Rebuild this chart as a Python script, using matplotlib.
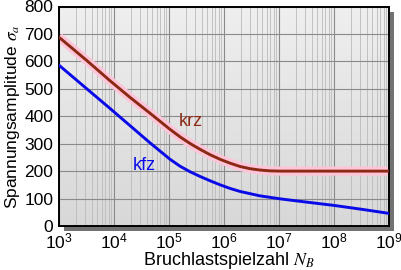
import numpy as np
import matplotlib
matplotlib.use("Agg")
import matplotlib.pyplot as plt
from matplotlib.patches import Rectangle

plt.rcParams['font.family'] = ['Liberation Sans', 'DejaVu Sans']
plt.rcParams['mathtext.fontset'] = 'stix'

# Woehler-Linien, Exponent von N_B und Spannungsamplitude
krz_exp = [3, 3.5, 3.93, 4.29, 4.655, 5.02, 5.2, 5.38, 5.56, 5.745, 5.93, 6.11, 6.29, 6.47,
           6.65, 6.83, 7.02, 8, 9]
krz_sa = [688, 604, 529, 469, 411, 352, 325, 301, 280, 260, 243, 229, 217, 209,
          204, 201, 200, 200, 200]
kfz_exp = [3, 3.5, 3.93, 4.29, 4.655, 5.02, 5.2, 5.38, 5.56, 5.745, 5.93, 6.11, 6.29, 6.65,
           7.02, 7.38, 8, 8.5, 9]
kfz_sa = [586, 501, 428, 366, 303, 243, 218, 198, 181, 165, 150, 137, 126, 110,
          99, 90, 75, 61, 46]

krz_n = [10 ** e for e in krz_exp]
kfz_n = [10 ** e for e in kfz_exp]

fig = plt.figure(figsize=(4.02, 2.70), dpi=100)
ax = fig.add_axes([59 / 402, 44 / 270, 330 / 402, 219.5 / 270])
ax.set_zorder(2)

# Schatten
dx, dy = 5 / 402, 5 / 270
pos = ax.get_position()
shadow = Rectangle((pos.x0 + dx, pos.y0 - dy), pos.width, pos.height,
                   transform=fig.transFigure, facecolor='#727272',
                   edgecolor='none', zorder=1)
fig.add_artist(shadow)

# Hintergrund mit Verlauf
grad = np.linspace(0, 1, 100).reshape(-1, 1)
ax.imshow(grad, extent=[0, 1, 0, 1], transform=ax.transAxes, aspect='auto',
          cmap=matplotlib.colors.LinearSegmentedColormap.from_list('g', ['#efefef', '#d8d8d8']),
          zorder=0)

ax.set_xscale('log')
ax.set_xlim(1e3, 1e9)
ax.set_ylim(0, 800)
ax.set_yticks(range(0, 801, 100))
ax.xaxis.set_minor_locator(matplotlib.ticker.LogLocator(base=10, subs=np.arange(2, 10)))
ax.xaxis.set_minor_formatter(matplotlib.ticker.NullFormatter())
ax.yaxis.set_minor_locator(matplotlib.ticker.NullLocator())

ax.grid(True, which='major', color='#8a8a8a', linewidth=0.8, zorder=1)
ax.grid(True, which='minor', axis='x', color='#bababa', linewidth=0.6, zorder=1)
ax.set_axisbelow(True)
ax.tick_params(which='both', length=0, labelsize=12.5, pad=4)

ax.plot(krz_n, krz_sa, color='#ffc4d8', linewidth=6.5, solid_capstyle='butt', zorder=2)
ax.plot(krz_n, krz_sa, color='#8b2a14', linewidth=2.1, zorder=3)
ax.plot(kfz_n, kfz_sa, color='#0a0ae8', linewidth=2.1, zorder=3)

ax.text(10 ** 5.39, 380, 'krz', color='#8b2a14', fontsize=13, ha='center', va='center')
ax.text(10 ** 4.56, 222, 'kfz', color='#0a0ae8', fontsize=13, ha='center', va='center')

for s in ax.spines.values():
    s.set_linewidth(1.4)
    s.set_color('black')

ax.set_ylabel(r'Spannungsamplitude $\sigma_a$', fontsize=12.5, labelpad=2)
ax.set_xlabel(r'Bruchlastspielzahl $N_B$', fontsize=13, labelpad=1)
ax.xaxis.set_label_coords(0.515, -0.11)

fig.savefig('out.png', dpi=100)
